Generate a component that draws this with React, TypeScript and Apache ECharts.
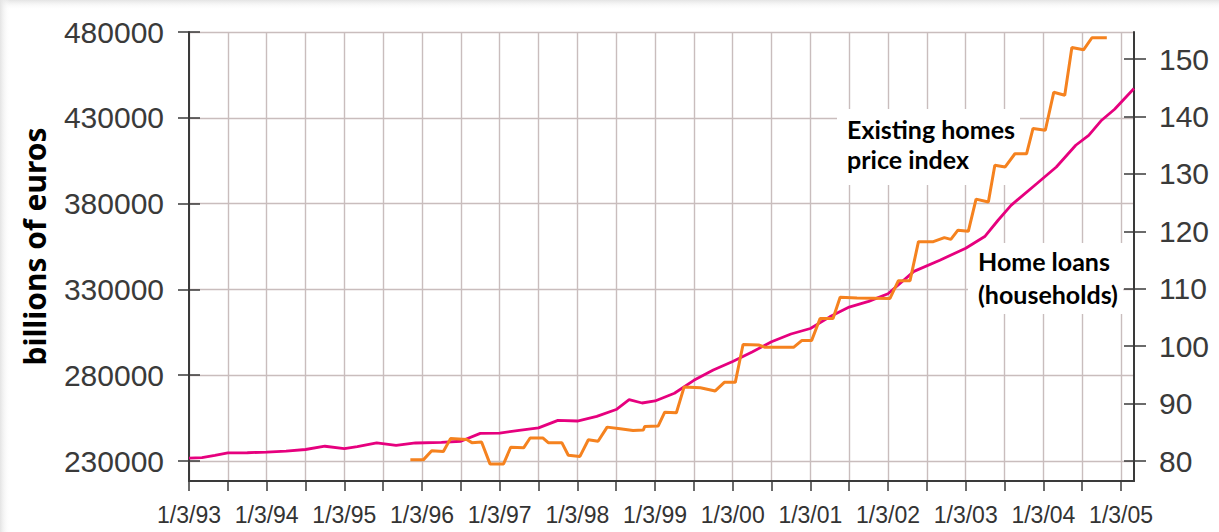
import React, { useEffect, useRef } from "react";
import * as echarts from "echarts";

// x axis: months after 1/3/93 (day/month/year labels every 12 months)
const xLabels = [
  "1/3/93", "1/3/94", "1/3/95", "1/3/96", "1/3/97", "1/3/98", "1/3/99",
  "1/3/00", "1/3/01", "1/3/02", "1/3/03", "1/3/04", "1/3/05",
];
const X_MAX = 146; // last month shown (May 2005)

// Home loans (households), billions of euros — left axis
const loanMonths = [
  0, 2, 4, 6, 9, 12, 15, 18, 21, 24, 26, 29, 32, 35, 39, 42, 45, 48, 51, 54,
  57, 60, 63, 66, 68, 70, 72, 75, 78, 81, 84, 87, 90, 93, 96, 99, 102, 105,
  108, 112, 116, 120, 123, 125, 127, 131, 134, 137, 139, 141, 143, 146,
];
const loanValues = [
  231700, 232000, 233300, 234700, 234800, 235200, 235700, 236700, 238600,
  237200, 238400, 240500, 239100, 240500, 240800, 241500, 246100, 246300,
  247900, 249300, 253700, 253300, 256000, 260000, 265800, 263800, 265000,
  269500, 277000, 283000, 288000, 293500, 299500, 304000, 307200, 314000,
  319700, 323000, 327500, 340500, 347000, 354000, 361000, 370300, 379000,
  391700, 401300, 414000, 419800, 428600, 435000, 447100,
];

// Existing homes price index — right axis
const priceMonths = [
  34.2, 36.2, 37.5, 39.3, 40.4, 42.9, 43.7, 45.2, 46.5, 48.6, 49.7, 51.7,
  52.7, 54.7, 55.5, 57.6, 58.6, 60.4, 61.7, 63.2, 64.6, 66.6, 68.6, 70.2,
  70.4, 72.5, 73.5, 75.3, 76.5, 79.0, 81.3, 82.7, 84.4, 85.6, 88.0, 89.0,
  93.4, 94.7, 96.2, 97.5, 99.5, 100.6, 103.2, 108.3, 109.6, 111.4, 112.7,
  115.0, 116.7, 117.7, 118.8, 120.4, 121.6, 123.5, 124.5, 126.1, 127.6,
  129.4, 130.4, 132.3, 133.6, 135.3, 136.4, 138.2, 139.5, 141.8,
];
const priceValues = [
  80.2, 80.2, 81.8, 81.65, 83.9, 83.75, 83.2, 83.3, 79.5, 79.5, 82.4, 82.3,
  84.0, 84.0, 83.2, 83.2, 81.0, 80.8, 83.7, 83.45, 85.9, 85.6, 85.3, 85.4,
  86.0, 86.1, 88.5, 88.4, 92.9, 92.75, 92.2, 93.7, 93.7, 100.3, 100.2, 99.8,
  99.8, 101.0, 101.0, 104.8, 104.8, 108.5, 108.4, 108.3, 111.4, 111.4, 118.2,
  118.2, 118.9, 118.6, 120.2, 120.0, 125.6, 125.1, 131.5, 131.2, 133.5,
  133.5, 137.9, 137.6, 144.2, 143.7, 152.0, 151.6, 153.7, 153.7,
];

// axis extents
const LEFT_MIN = 218345;
const LEFT_MAX = 480000;
const LEFT_TICK_MIN = 230000;
const LEFT_STEP = 50000;
const RIGHT_MIN = 76.52;
const RIGHT_MAX = 154.7;
const RIGHT_TICK_MIN = 80;
const RIGHT_TICK_MAX = 150;
const RIGHT_STEP = 10;

export default function App() {
  const ref = useRef<HTMLDivElement>(null);

  useEffect(() => {
    if (!ref.current) return;
    const chart = echarts.init(ref.current, null, { renderer: "svg" });

    const axisColor = "#3a3a3a";
    const gridColor = "#c9bdbd";
    const labelFont = "Liberation Sans";

    const tickMonths: number[] = [];
    for (let m = 0; m <= (xLabels.length - 1) * 12; m += 6) tickMonths.push(m);
    const labelMonths = xLabels.map((_, i) => i * 12);

    const hiddenX = (gi: number) => ({
      type: "value",
      gridIndex: gi,
      show: false,
      min: 0,
      max: 1,
    });

    const option: any = {
      animation: false,
      backgroundColor: "#ffffff",
      grid: [
        { left: 189, right: 85, top: 32, bottom: 51 },
        { left: 189, right: 85, top: 32, bottom: 71 },
        { left: 189, right: 85, top: 59, bottom: 71 },
      ],
      xAxis: [
        {
          type: "value",
          gridIndex: 0,
          min: 0,
          max: X_MAX,
          interval: 6,
          axisLine: {
            show: true,
            onZero: false,
            lineStyle: { color: axisColor, width: 2.2 },
          },
          axisTick: {
            show: true,
            length: 10,
            customValues: tickMonths,
            lineStyle: { color: axisColor, width: 1.5 },
          },
          axisLabel: {
            customValues: labelMonths,
            formatter: (v: number) => xLabels[Math.round(v / 12)] ?? "",
            fontSize: 23,
            fontFamily: labelFont,
            color: "#333333",
            margin: 22,
          },
          splitLine: {
            show: true,
            lineStyle: { color: gridColor, width: 1.4 },
          },
        },
        hiddenX(1),
        hiddenX(2),
      ],
      yAxis: [
        {
          type: "value",
          gridIndex: 0,
          position: "left",
          min: LEFT_MIN,
          max: LEFT_MAX,
          axisLine: {
            show: true,
            onZero: false,
            lineStyle: { color: axisColor, width: 2 },
          },
          axisTick: { show: false },
          axisLabel: { show: false },
          splitLine: { show: false },
        },
        {
          type: "value",
          gridIndex: 0,
          position: "right",
          min: RIGHT_MIN,
          max: RIGHT_MAX,
          axisLine: {
            show: true,
            onZero: false,
            lineStyle: { color: axisColor, width: 2 },
          },
          axisTick: { show: false },
          axisLabel: { show: false },
          splitLine: { show: false },
        },
        {
          type: "value",
          gridIndex: 1,
          position: "left",
          min: LEFT_TICK_MIN,
          max: LEFT_MAX,
          interval: LEFT_STEP,
          name: "billions of euros",
          nameLocation: "middle",
          nameRotate: 90,
          nameGap: 140,
          nameTextStyle: {
            fontFamily: "Noto Sans",
            fontWeight: "bold",
            fontSize: 30,
            color: "#000000",
          },
          axisLine: { show: false, onZero: false },
          axisTick: {
            show: true,
            inside: false,
            length: 11,
            lineStyle: { color: axisColor, width: 1.5 },
          },
          axisLabel: {
            formatter: (v: number) => String(v),
            fontSize: 30,
            fontFamily: labelFont,
            color: "#3a3a3a",
            margin: 25,
          },
          splitLine: {
            show: true,
            lineStyle: { color: gridColor, width: 1.4 },
          },
        },
        {
          type: "value",
          gridIndex: 1,
          position: "left",
          min: LEFT_TICK_MIN,
          max: LEFT_MAX,
          interval: LEFT_STEP,
          axisLine: { show: false, onZero: false },
          axisTick: {
            show: true,
            inside: true,
            length: 11,
            lineStyle: { color: axisColor, width: 1.5 },
          },
          axisLabel: { show: false },
          splitLine: { show: false },
        },
        {
          type: "value",
          gridIndex: 2,
          position: "right",
          min: RIGHT_TICK_MIN,
          max: RIGHT_TICK_MAX,
          interval: RIGHT_STEP,
          axisLine: { show: false, onZero: false },
          axisTick: {
            show: true,
            inside: false,
            length: 12,
            lineStyle: { color: axisColor, width: 1.5 },
          },
          axisLabel: {
            formatter: (v: number) => String(v),
            fontSize: 30,
            fontFamily: labelFont,
            color: "#3a3a3a",
            margin: 25,
          },
          splitLine: { show: false },
        },
        {
          type: "value",
          gridIndex: 2,
          position: "right",
          min: RIGHT_TICK_MIN,
          max: RIGHT_TICK_MAX,
          interval: RIGHT_STEP,
          axisLine: { show: false, onZero: false },
          axisTick: {
            show: true,
            inside: true,
            length: 10,
            lineStyle: { color: axisColor, width: 1.5 },
          },
          axisLabel: { show: false },
          splitLine: { show: false },
        },
      ],
      series: [
        {
          name: "Home loans (households)",
          type: "line",
          xAxisIndex: 0,
          yAxisIndex: 0,
          data: loanMonths.map((m, i) => [m, loanValues[i]]),
          showSymbol: false,
          symbol: "none",
          lineStyle: { color: "#e6007e", width: 2.8 },
          z: 3,
        },
        {
          name: "Existing homes price index",
          type: "line",
          xAxisIndex: 0,
          yAxisIndex: 1,
          data: priceMonths.map((m, i) => [m, priceValues[i]]),
          showSymbol: false,
          symbol: "none",
          lineStyle: { color: "#f5821f", width: 3 },
          z: 4,
        },
      ],
      graphic: [
        {
          type: "rect",
          z: 1,
          shape: { x: 0, y: 0, width: 1219, height: 10 },
          style: {
            fill: new echarts.graphic.LinearGradient(0, 0, 0, 1, [
              { offset: 0, color: "#e4e4e4" },
              { offset: 1, color: "rgba(255,255,255,0)" },
            ]),
          },
          silent: true,
        },
        {
          type: "rect",
          z: 1,
          shape: { x: 0, y: 0, width: 10, height: 532 },
          style: {
            fill: new echarts.graphic.LinearGradient(0, 0, 1, 0, [
              { offset: 0, color: "#e4e4e4" },
              { offset: 1, color: "rgba(255,255,255,0)" },
            ]),
          },
          silent: true,
        },
        {
          type: "rect",
          z: 1,
          shape: { x: 837, y: 109, width: 183, height: 76 },
          style: { fill: "#ffffff" },
          silent: true,
        },
        {
          type: "rect",
          z: 1,
          shape: { x: 968, y: 243, width: 155, height: 71 },
          style: { fill: "#ffffff" },
          silent: true,
        },
        {
          type: "text",
          z: 5,
          x: 847,
          y: 114,
          style: {
            text: "Existing homes\nprice index",
            font: "bold 25px Lato, 'Noto Sans', sans-serif",
            fill: "#000000",
            lineHeight: 30,
          },
          silent: true,
        },
        {
          type: "text",
          z: 5,
          x: 978,
          y: 244,
          style: {
            text: "Home loans\n(households)",
            font: "bold 25px Lato, 'Noto Sans', sans-serif",
            fill: "#000000",
            lineHeight: 33,
          },
          silent: true,
        },
      ],
    };

    chart.setOption(option);
    return () => chart.dispose();
  }, []);

  return (
    <div
      ref={ref}
      style={{ position: "fixed", left: 0, top: 0, width: 1219, height: 532 }}
    />
  );
}
